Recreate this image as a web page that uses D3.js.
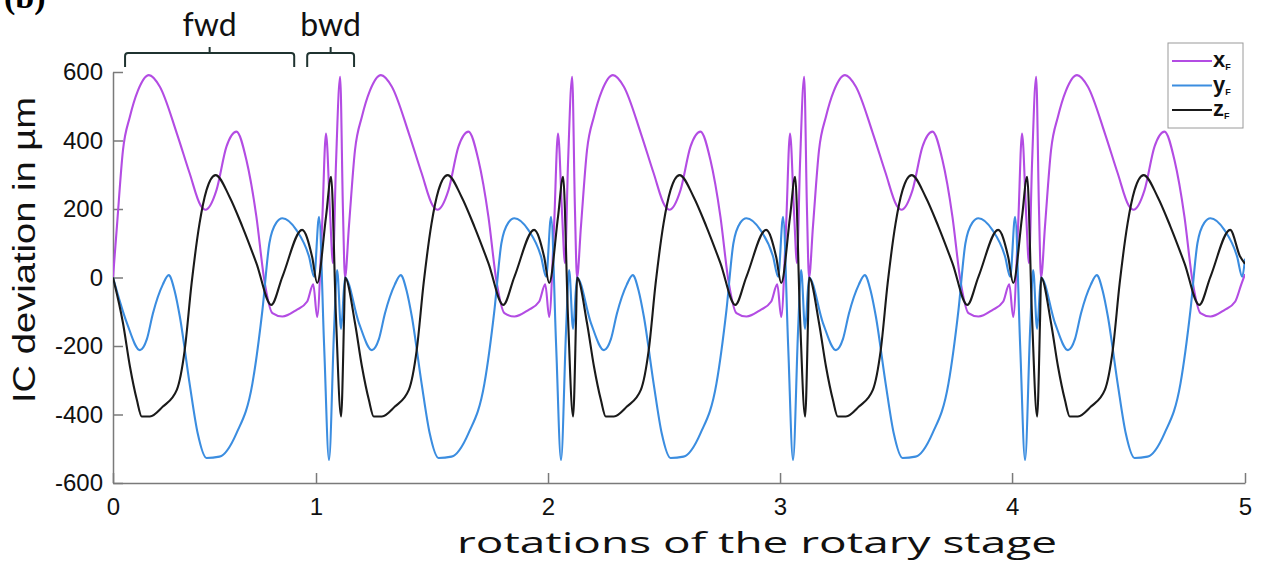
<!DOCTYPE html>
<html lang="en">
<head>
<meta charset="UTF-8">
<title>IC deviation over rotations</title>
<script src="https://cdn.jsdelivr.net/npm/d3@7"></script>
<style>
  body { margin: 0; background: #fff; }
  .axis .tick text { font-family: "Liberation Sans", Arial, sans-serif; font-size: 24px; fill: #111; }
  .axis path, .axis line { stroke: #7a7a7a; stroke-width: 1.5; }
  .series { fill: none; stroke-width: 2.1; stroke-linejoin: round; }
</style>
</head>
<body>
<div id="chart"></div>
<script>
// x axis: time in "cycles" of the motion (one fwd + bwd sweep), tick marks sit where the rotations are counted
var xEnd = 4.879;
var rotationTicks = [0, 0.875, 1.875, 2.875, 3.875, 4.879];
var rotationLabels = ["0", "1", "2", "3", "4", "5"];
var yTicks = [-600, -400, -200, 0, 200, 400, 600];

// one cycle of each deviation curve (phase 0..1, value in µm)
var xfPhase = [0, 0.017, 0.043, 0.073, 0.107, 0.155, 0.202, 0.275, 0.330, 0.378, 0.399, 0.446, 0.489, 0.532, 0.575, 0.618, 0.652, 0.687, 0.730, 0.790, 0.837, 0.863, 0.880, 0.901, 0.918, 0.936, 0.948, 0.961, 0.979, 0.991, 1];
var xfValue = [0, 150, 372, 470, 545, 591, 557, 421, 305, 210, 198, 255, 382, 426, 343, 178, -7, -104, -114, -95, -70, -20, -115, 150, 420, 180, 42, 330, 586, 200, 0];

var yfPhase = [0, 0.060, 0.116, 0.146, 0.172, 0.215, 0.240, 0.266, 0.288, 0.330, 0.365, 0.403, 0.459, 0.532, 0.601, 0.644, 0.674, 0.704, 0.730, 0.790, 0.845, 0.867, 0.888, 0.910, 0.931, 0.953, 0.966, 0.983, 1];
var yfValue = [0, -133, -212, -180, -105, -20, 7, -40, -114, -309, -455, -527, -523, -455, -309, -95, 100, 160, 173, 139, 61, 2, 177, -200, -533, -150, 22, -150, 0];

var zfPhase = [0, 0.043, 0.073, 0.103, 0.124, 0.159, 0.215, 0.275, 0.309, 0.339, 0.373, 0.403, 0.442, 0.502, 0.558, 0.618, 0.682, 0.730, 0.815, 0.858, 0.880, 0.918, 0.940, 0.961, 0.983, 0.996, 1];
var zfValue = [0, -133, -260, -358, -406, -406, -377, -328, -212, -16, 158, 255, 299, 236, 148, 42, -80, 2, 139, 61, -16, 177, 294, -114, -406, -114, 0];

// last sample of each curve at the right edge of the plot
var endValues = [10, 55, 40];

var seriesNames = ["x", "y", "z"];
var seriesColors = ["#b34ce3", "#3b8de0", "#1a1a1a"];

// bracket annotations (in cycles)
var fwdSpan = [0.052, 0.781];
var bwdSpan = [0.837, 1.039];

var w = 1265,
    h = 563;

var svg = d3.select("#chart")
    .append("svg")
    .attr("width", w)
    .attr("height", h);

var x = d3.scaleLinear().domain([0, xEnd]).range([113, 1245]);
var y = d3.scaleLinear().domain([-600, 600]).range([483, 72]);

function buildSeries(phase, value, last) {
    var out = [];
    for (var k = 0; k < 5; k++) {
        for (var i = 0; i < phase.length; i++) {
            if (k > 0 && i === 0) continue;
            var t = k + phase[i];
            if (t >= xEnd) {
                out.push({t: xEnd, v: last});
                return out;
            }
            out.push({t: t, v: value[i]});
        }
    }
    return out;
}

var allSeries = [
    buildSeries(xfPhase, xfValue, endValues[0]),
    buildSeries(yfPhase, yfValue, endValues[1]),
    buildSeries(zfPhase, zfValue, endValues[2])
];

// (b) panel label, cut off at the top like in the source figure
svg.append("text")
    .attr("x", 4)
    .attr("y", 8)
    .style("font-family", "'Liberation Serif', serif")
    .style("font-weight", "bold")
    .style("font-size", "34px")
    .text("(b)");

// axes
var xAxis = d3.axisBottom(x)
    .tickValues(rotationTicks)
    .tickFormat(function(d, i) { return rotationLabels[i]; })
    .tickSizeInner(-10)
    .tickSizeOuter(0)
    .tickPadding(15);

var yAxis = d3.axisLeft(y)
    .tickValues(yTicks)
    .tickFormat(function(d) { return String(d); })
    .tickSizeInner(-10)
    .tickSizeOuter(0)
    .tickPadding(10);

svg.append("g")
    .attr("class", "axis")
    .attr("transform", "translate(0," + y(-600) + ")")
    .call(xAxis);

svg.append("g")
    .attr("class", "axis")
    .attr("transform", "translate(" + x(0) + ",0)")
    .call(yAxis);

// lines
svg.append("clipPath")
    .attr("id", "plotClip")
    .append("rect")
    .attr("x", x(0))
    .attr("y", 0)
    .attr("width", x(xEnd) - x(0))
    .attr("height", h);

var line = d3.line()
    .x(function(d) { return x(d.t); })
    .y(function(d) { return y(d.v); })
    .curve(d3.curveMonotoneX);

svg.append("g")
    .attr("clip-path", "url(#plotClip)")
    .selectAll(".series")
    .data(allSeries)
    .enter()
    .append("path")
    .attr("class", "series")
    .attr("stroke", function(d, i) { return seriesColors[i]; })
    .attr("d", line);

// axis titles
svg.append("text")
    .attr("transform", "translate(35,250) rotate(-90)")
    .attr("text-anchor", "middle")
    .attr("textLength", 306)
    .attr("lengthAdjust", "spacingAndGlyphs")
    .style("font-family", "'Liberation Sans', Arial, sans-serif")
    .style("font-size", "31px")
    .style("fill", "#111")
    .text("IC deviation in µm");

svg.append("text")
    .attr("x", 757)
    .attr("y", 553)
    .attr("text-anchor", "middle")
    .attr("textLength", 600)
    .attr("lengthAdjust", "spacingAndGlyphs")
    .style("font-family", "'Open Sans', sans-serif")
    .style("font-size", "29px")
    .style("fill", "#111")
    .text("rotations of the rotary stage");

// fwd / bwd brackets
function bracket(span, label) {
    var x0 = x(span[0]), x1 = x(span[1]), xm = (x0 + x1) / 2;
    svg.append("path")
        .attr("d", "M" + x0 + ",67 L" + x0 + ",56 Q" + x0 + ",53 " + (x0 + 3) + ",53 L" + (x1 - 3) + ",53 Q" + x1 + ",53 " + x1 + ",56 L" + x1 + ",67"
            + " M" + xm + ",53 L" + xm + ",47")
        .attr("fill", "none")
        .attr("stroke", "#1f3330")
        .attr("stroke-width", 2);
    svg.append("text")
        .attr("x", xm)
        .attr("y", 36)
        .attr("text-anchor", "middle")
        .style("font-family", "Lato, sans-serif")
        .style("font-size", "32px")
        .style("fill", "#111")
        .text(label);
}
bracket(fwdSpan, "fwd");
bracket(bwdSpan, "bwd");

// legend
var legend = svg.append("g");
legend.append("rect")
    .attr("x", 1168)
    .attr("y", 43)
    .attr("width", 75)
    .attr("height", 85)
    .attr("fill", "#fff")
    .attr("stroke", "#9a9a9a")
    .attr("stroke-width", 1);

var items = legend.selectAll(".item")
    .data(seriesNames)
    .enter()
    .append("g")
    .attr("transform", function(d, i) { return "translate(0," + (61 + i * 24.5) + ")"; });

items.append("line")
    .attr("x1", 1172)
    .attr("x2", 1212)
    .attr("stroke", function(d, i) { return seriesColors[i]; })
    .attr("stroke-width", 2);

var lbl = items.append("text")
    .attr("x", 1213)
    .attr("y", 6)
    .style("font-family", "'Liberation Sans', Arial, sans-serif")
    .style("font-weight", "bold")
    .style("font-size", "22px")
    .style("fill", "#111");
lbl.append("tspan").text(function(d) { return d; });
lbl.append("tspan")
    .attr("dy", 3)
    .style("font-size", "9px")
    .text("F");
</script>
</body>
</html>
